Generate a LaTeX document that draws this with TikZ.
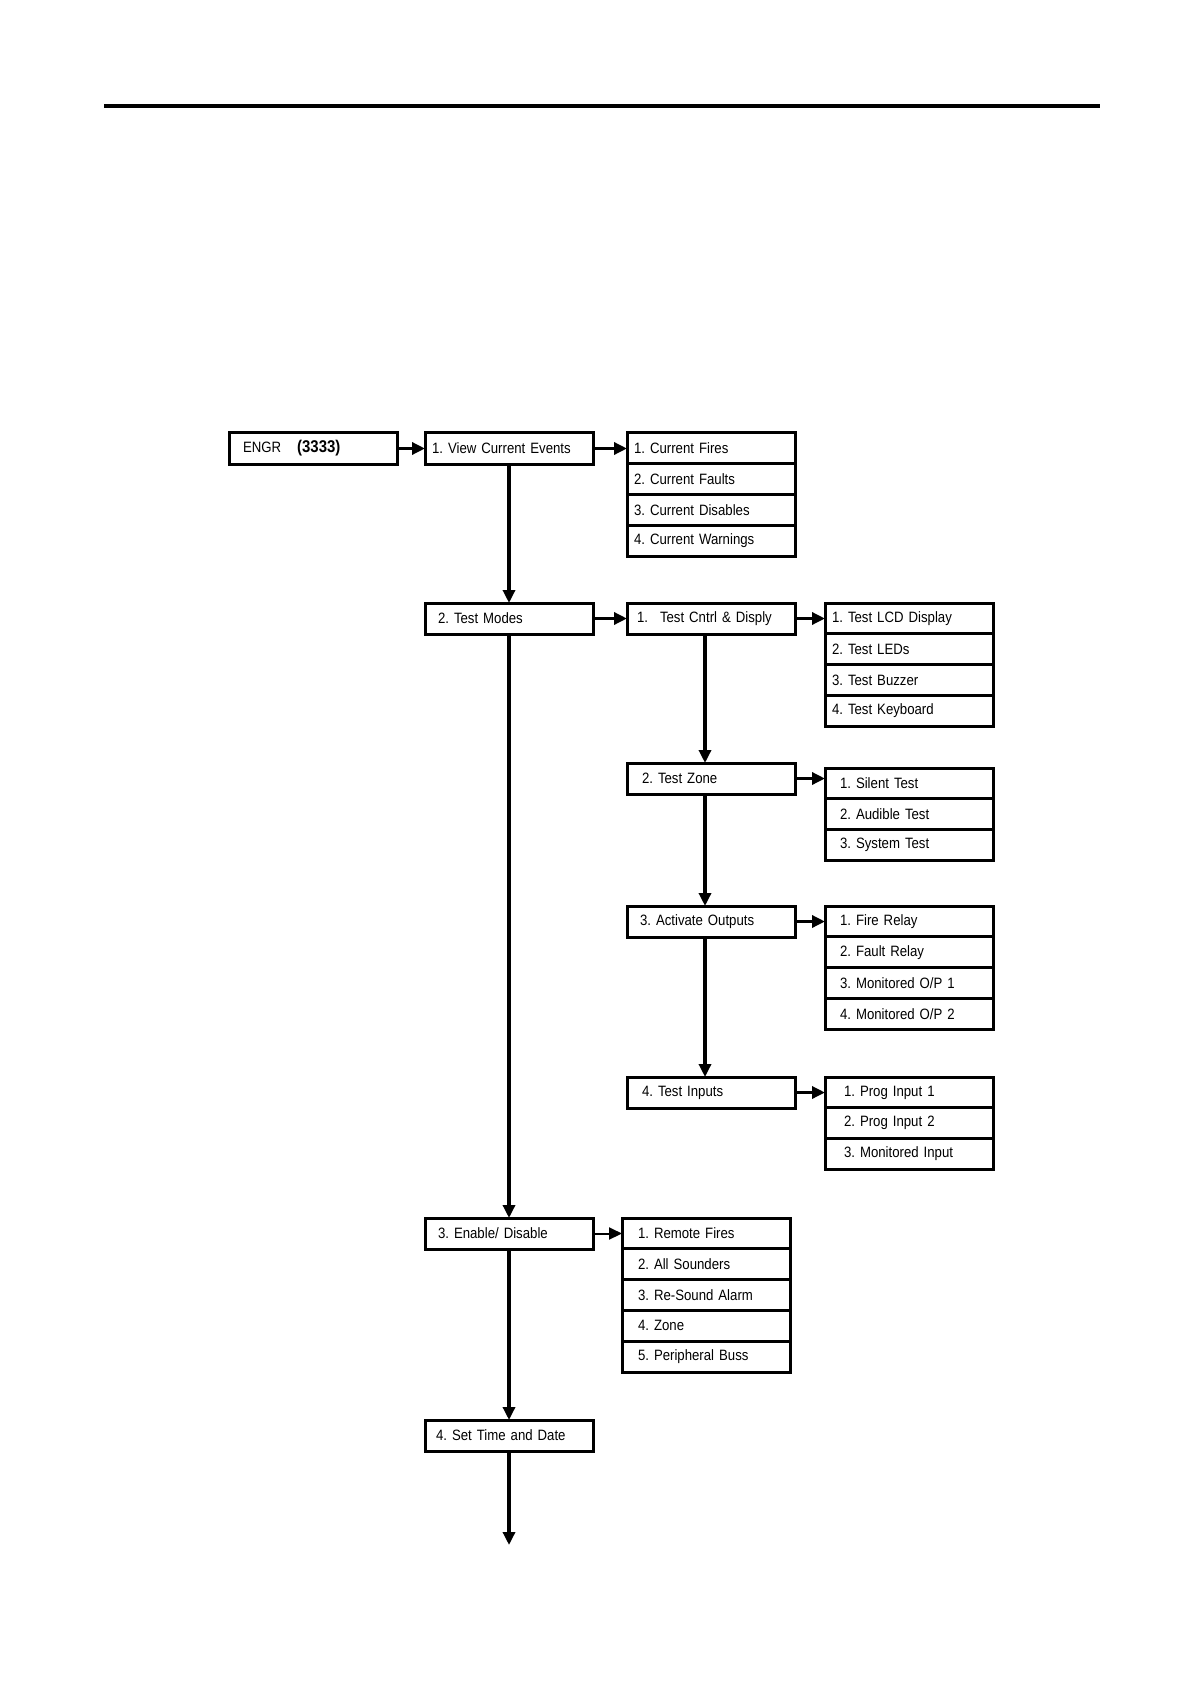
\documentclass[tikz,border=0pt]{standalone}
\usepackage{fontspec}
\newfontfamily\menufont{Liberation Sans}[FakeStretch=0.88]
\usetikzlibrary{positioning, arrows.meta}

\tikzset{
  box/.style={draw, line width=1.5pt, outer sep=0pt, inner xsep=3.5pt, inner ysep=0pt,
    text width=77pt, minimum height=15.5pt, align=left,
    font=\menufont\fontsize{7.5}{9}\selectfont\frenchspacing},
  item/.style={box, minimum height=15.4pt},
  link/.style={draw, line width=1.7pt, -{Triangle[length=6.5pt,width=6pt]}},
}
\newcommand{\indt}[1]{\hspace*{#1}}

\begin{document}
\begin{tikzpicture}
  \useasboundingbox (0,0) rectangle (595.5pt,-842pt);
  \coordinate (rulel) at (52pt,-53pt);
  \coordinate (ruler) at (550pt,-53pt);
  \draw[line width=2pt] (rulel) -- (ruler);

  % main column
  \node[box, anchor=north west] (engr) at (114.5pt,-216.5pt) {\indt{3.5pt}ENGR\hspace{8pt}{\bfseries\fontsize{8.5}{9}\selectfont(3333)}};
  \node[box, right=14pt of engr] (view) {1. View Current Events};
  \node[box, below=69.5pt of view] (tm) {\indt{3pt}2. Test Modes};
  \node[box, below=292pt of tm] (en) {\indt{3pt}3. Enable/ Disable};
  \node[box, below=85.5pt of en] (st) {\indt{2pt}4. Set Time and Date};
  \coordinate[below=47pt of st] (stend);

  % current events
  \node[item, below right=0pt and 17pt of view.north east] (cur1) {1. Current Fires};
  \node[item, below=0pt of cur1] (cur2) {2. Current Faults};
  \node[item, below=0pt of cur2] (cur3) {3. Current Disables};
  \node[item, below=0pt of cur3] (cur4) {4. Current Warnings};

  % test modes
  \node[box, below right=0pt and 17pt of tm.north east] (tcd) {\indt{1.5pt}1.\hspace{6pt}Test Cntrl \& Disply};
  \node[box, below=64.5pt of tcd] (tz) {\indt{4pt}2. Test Zone};
  \node[box, below=56pt of tz] (ao) {\indt{3pt}3. Activate Outputs};
  \node[box, below=70pt of ao] (ti) {\indt{4pt}4. Test Inputs};

  \node[item, below right=0pt and 15pt of tcd.north east] (lcd1) {1. Test LCD Display};
  \node[item, below=0pt of lcd1] (lcd2) {2. Test LEDs};
  \node[item, below=0pt of lcd2] (lcd3) {3. Test Buzzer};
  \node[item, below=0pt of lcd3] (lcd4) {4. Test Keyboard};

  \node[item, below right=2.5pt and 15pt of tz.north east] (sil1) {\indt{4pt}1. Silent Test};
  \node[item, below=0pt of sil1] (sil2) {\indt{4pt}2. Audible Test};
  \node[item, below=0pt of sil2] (sil3) {\indt{4pt}3. System Test};

  \node[item, below right=0pt and 15pt of ao.north east] (fr1) {\indt{4pt}1. Fire Relay};
  \node[item, below=0pt of fr1] (fr2) {\indt{4pt}2. Fault Relay};
  \node[item, below=0pt of fr2] (fr3) {\indt{4pt}3. Monitored O/P 1};
  \node[item, below=0pt of fr3] (fr4) {\indt{4pt}4. Monitored O/P 2};

  \node[item, below right=0pt and 15pt of ti.north east] (pi1) {\indt{6pt}1. Prog Input 1};
  \node[item, below=0pt of pi1] (pi2) {\indt{6pt}2. Prog Input 2};
  \node[item, below=0pt of pi2] (pi3) {\indt{6pt}3. Monitored Input};

  % enable / disable
  \node[item, below right=0pt and 14.5pt of en.north east] (re1) {\indt{4.5pt}1. Remote Fires};
  \node[item, below=0pt of re1] (re2) {\indt{4.5pt}2. All Sounders};
  \node[item, below=0pt of re2] (re3) {\indt{4.5pt}3. Re-Sound Alarm};
  \node[item, below=0pt of re3] (re4) {\indt{4.5pt}4. Zone};
  \node[item, below=0pt of re4] (re5) {\indt{4.5pt}5. Peripheral Buss};

  % links
  \path[link] (engr.east) -- (view.west);
  \path[link] (view.east) -- (view.east -| cur1.west);
  \path[link] (view.south) -- (tm.north);
  \path[link] (tm.south) -- (en.north);
  \path[link] (en.south) -- (st.north);
  \path[link] (st.south) -- (stend);
  \path[link] (tm.east) -- (tm.east -| tcd.west);
  \path[link] (tcd.east) -- (tcd.east -| lcd1.west);
  \path[link] ([xshift=-3pt]tcd.south) -- ([xshift=-3pt]tz.north);
  \path[link] (tz.east) -- (tz.east -| sil1.west);
  \path[link] ([xshift=-3pt]tz.south) -- ([xshift=-3pt]ao.north);
  \path[link] (ao.east) -- (ao.east -| fr1.west);
  \path[link] ([xshift=-3pt]ao.south) -- ([xshift=-3pt]ti.north);
  \path[link] (ti.east) -- (ti.east -| pi1.west);
  \path[link, line width=1pt] (en.east) -- (en.east -| re1.west);
\end{tikzpicture}
\end{document}
